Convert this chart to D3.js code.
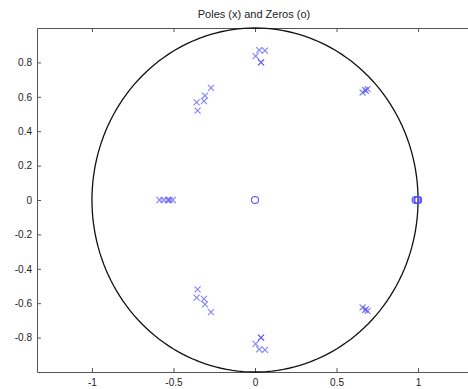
<!DOCTYPE html>
<html>
<head>
<meta charset="utf-8">
<script src="https://cdn.jsdelivr.net/npm/d3@7"></script>
<style>
  body { margin: 0; background: #fff; }
  text { font-family: "Liberation Sans", Arial, sans-serif; }
</style>
</head>
<body>
<div class="chart"></div>
<script>
const poleRe = [0.026, 0.061, 0.004, 0.037, 0.037,
                0.037, 0.037, 0.004, 0.026, 0.061,
                -0.27, -0.307, -0.313, -0.358, -0.352,
                -0.352, -0.358, -0.313, -0.307, -0.27,
                -0.585, -0.56, -0.535, -0.525, -0.505,
                0.66, 0.675, 0.69, 0.68,
                0.66, 0.675, 0.69, 0.68];
const poleIm = [0.872, 0.868, 0.836, 0.80, 0.80,
                -0.80, -0.80, -0.836, -0.868, -0.872,
                0.652, 0.607, 0.575, 0.567, 0.52,
                -0.52, -0.567, -0.575, -0.607, -0.652,
                0, 0, 0, 0, 0,
                0.625, 0.64, 0.645, 0.635,
                -0.625, -0.64, -0.645, -0.635];
const zeroRe = [0, 1, 1, 0.985, 0.995];
const zeroIm = [0, 0, 0, 0, 0];
const xTicks = [-1, -0.5, 0, 0.5, 1];
const yTicks = [-0.8, -0.6, -0.4, -0.2, 0, 0.2, 0.4, 0.6, 0.8];
const title = 'Poles (x) and Zeros (o)';

const width = 468, height = 389;
const mLeft = 37, mTop = 28, mBottom = 372;

const svg = d3.select('.chart').append('svg')
    .attr('width', width)
    .attr('height', height);

const x = d3.scaleLinear().domain([-1.337, 1.337]).range([mLeft, 473]);
const y = d3.scaleLinear().domain([-1, 1]).range([mBottom, mTop]);

const axisColor = '#555';
// plain hyphen minus like the original, not the unicode minus
const fmt = d => String(+d.toFixed(1));

// frame axes (ticks point inward)
const gx = svg.append('g')
    .attr('transform', 'translate(0,' + mBottom + ')')
    .call(d3.axisBottom(x).tickValues(xTicks).tickSizeInner(-4).tickSizeOuter(0).tickPadding(7)
        .tickFormat(fmt));
const gxTop = svg.append('g')
    .attr('transform', 'translate(0,' + mTop + ')')
    .call(d3.axisTop(x).tickValues(xTicks).tickSizeInner(-4).tickSizeOuter(0).tickFormat(''));
const gy = svg.append('g')
    .attr('transform', 'translate(' + mLeft + ',0)')
    .call(d3.axisLeft(y).tickValues(yTicks).tickSizeInner(-4).tickSizeOuter(0).tickPadding(5)
        .tickFormat(fmt));

[gx, gxTop, gy].forEach(g => {
    g.select('.domain').attr('stroke', axisColor);
    g.selectAll('.tick line').attr('stroke', axisColor);
    g.selectAll('.tick text').attr('fill', '#222').style('font-size', '10px');
});

// unit circle
const circlePts = d3.range(0, 361, 2).map(a => [Math.cos(a * Math.PI / 180), Math.sin(a * Math.PI / 180)]);
svg.append('path')
    .datum(circlePts)
    .attr('fill', 'none')
    .attr('stroke', '#111')
    .attr('stroke-width', 1.3)
    .attr('d', d3.line().x(d => x(d[0])).y(d => y(d[1])));

const blue = '#5555ff';

// poles
const poles = poleRe.map((r, i) => ({re: r, im: poleIm[i]}));
const s = 3;
svg.append('g').selectAll('path')
    .data(poles)
    .enter()
    .append('path')
    .attr('d', d => {
        const cx = x(d.re), cy = y(d.im);
        return 'M' + (cx - s) + ',' + (cy - s) + 'L' + (cx + s) + ',' + (cy + s) +
               'M' + (cx - s) + ',' + (cy + s) + 'L' + (cx + s) + ',' + (cy - s);
    })
    .attr('stroke', blue)
    .attr('stroke-opacity', 0.75)
    .attr('stroke-width', 1.1)
    .attr('fill', 'none');

// zeros
const zeros = zeroRe.map((r, i) => ({re: r, im: zeroIm[i]}));
svg.append('g').selectAll('circle')
    .data(zeros)
    .enter()
    .append('circle')
    .attr('cx', d => x(d.re))
    .attr('cy', d => y(d.im))
    .attr('r', 3.5)
    .attr('fill', 'none')
    .attr('stroke', blue)
    .attr('stroke-width', 1.1);

// title
svg.append('text')
    .attr('x', 254)
    .attr('y', 18)
    .attr('text-anchor', 'middle')
    .attr('fill', '#222')
    .style('font-size', '11px')
    .text(title);
</script>
</body>
</html>
